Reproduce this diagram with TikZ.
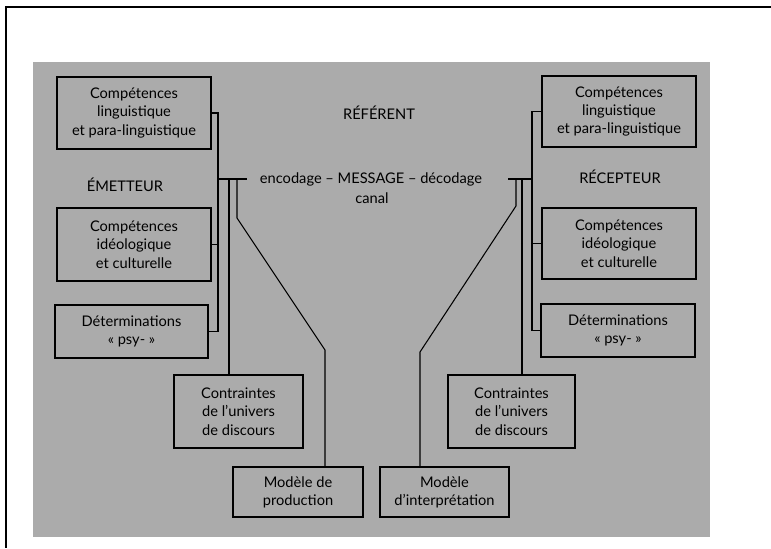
\documentclass[tikz,border=0pt]{standalone}
\usepackage{fontspec}
\setmainfont{Lato}
\usepackage{tikz}
\usetikzlibrary{calc, positioning}

\begin{document}
\begin{tikzpicture}[
  x=0.03cm, y=-0.03cm,
  box/.style={draw, line width=1pt, align=center, inner sep=2pt, font=\fontsize{12.5}{15.6}\selectfont},
  lbl/.style={font=\fontsize{12.5}{15.6}\selectfont, inner sep=0pt},
  lnk/.style={line width=0.9pt}
]
\useasboundingbox (0,0) rectangle (771,548);
% speckled paper and frame
\fill[black!33] (33,62) rectangle (710,537);
\draw[line width=2.3pt] (771,7) -- (6,7) -- (6,548);

% sender side
\node (ling1) [box, minimum width=4.62cm, minimum height=2.16cm] at (134,113) {Compétences\\linguistique\\et para-linguistique};
\node (ideo1) [box, minimum width=4.62cm, minimum height=2.19cm] at (134,244.5) {Compétences\\idéologique\\et culturelle};
\node (psy1)  [box, minimum width=4.59cm, minimum height=1.59cm] at (131.5,331.5) {Déterminations\\« psy- »};
\node (univ1) [box, minimum width=3.87cm, minimum height=2.19cm] at (238.5,411.5) {Contraintes\\de l’univers\\de discours};
\node (prod)  [box, minimum width=3.9cm, minimum height=1.5cm] at (298,492) {Modèle de\\production};
\node (emet)  [lbl] at (125,185) {ÉMETTEUR};

% receiver side
\node (ling2) [box, minimum width=4.62cm, minimum height=2.13cm] at (619,111.5) {Compétences\\linguistique\\et para-linguistique};
\node (ideo2) [box, minimum width=4.62cm, minimum height=2.13cm] at (619,243.5) {Compétences\\idéologique\\et culturelle};
\node (psy2)  [box, minimum width=4.62cm, minimum height=1.59cm] at (618,330.5) {Déterminations\\« psy- »};
\node (univ2) [box, minimum width=3.81cm, minimum height=2.19cm] at (511.5,411.5) {Contraintes\\de l’univers\\de discours};
\node (interp)[box, minimum width=3.87cm, minimum height=1.5cm] at (444.5,492) {Modèle\\d’interprétation};
\node (recep) [lbl] at (620,177) {RÉCEPTEUR};

% centre
\node (ref)   [lbl] at (379,113) {RÉFÉRENT};
\node (msg)   [lbl] at (371,179) {encodage – MESSAGE – décodage};
\node (canal) [lbl] at (372,198) {canal};

\coordinate (lbus) at (218,179);
\coordinate (lmsg) at (247,179);
\coordinate (lc)   at (229,179);
\coordinate (lp)   at (237,179);
\coordinate (lpb)  at (325,350);
\coordinate (rbus) at (532,179);
\coordinate (rmsg) at (508,179);
\coordinate (rc)   at (522,179);
\coordinate (rp)   at (516,179);
\coordinate (rpb)  at (420,352);

% left links
\draw[lnk] (ling1.east) -| (lbus |- psy1.east) -- (psy1.east);
\draw[lnk] (ideo1.east) -- (ideo1.east -| lbus);
\draw[lnk] (lbus) -- (lmsg);
\draw[lnk] (lc) -- (lc |- univ1.north);
\draw[lnk] (lp) -- ++(0,39) -- (lpb) -- (lpb |- prod.north);

% right links
\draw[lnk] (ling2.west) -| (rbus |- psy2.west) -- (psy2.west);
\draw[lnk] (ideo2.west) -- (ideo2.west -| rbus);
\draw[lnk] (rmsg) -- (rbus);
\draw[lnk] (rc) -- (rc |- univ2.north);
\draw[lnk] (rp) -- ++(0,27) -- (rpb) -- (rpb |- interp.north);
\end{tikzpicture}
\end{document}
